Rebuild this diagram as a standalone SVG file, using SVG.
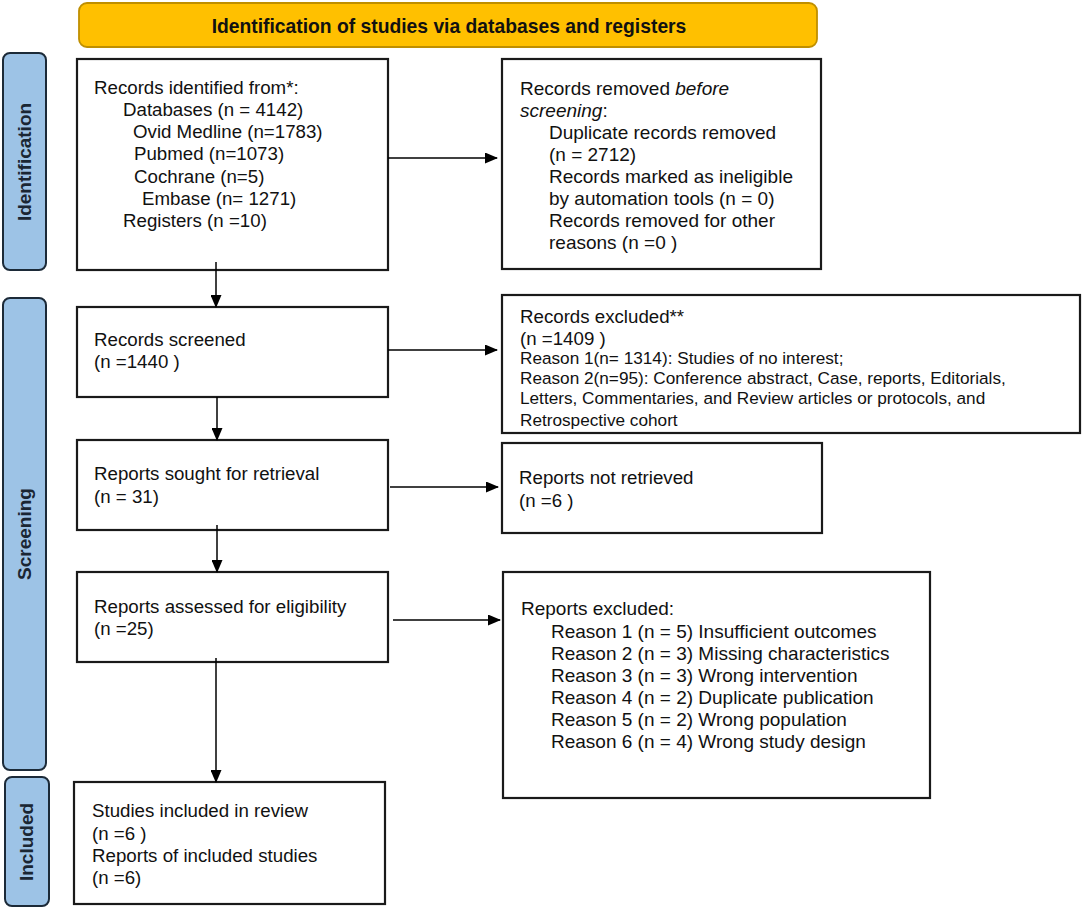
<svg xmlns="http://www.w3.org/2000/svg" width="1084" height="911" viewBox="0 0 1084 911">
<defs>
<marker id="ah" markerWidth="13" markerHeight="11" refX="12" refY="5.5" orient="auto" markerUnits="userSpaceOnUse">
<path d="M0,0 L13,5.5 L0,11 Z" fill="#000"/>
</marker>
<style>
.box{fill:#fff;stroke:#1a1a1a;stroke-width:2.2}
.lab{fill:#9DC3E6;stroke:#1c2a38;stroke-width:2}
.hdr{fill:#FFC000;stroke:#BF8F00;stroke-width:1.8}
.t{font-family:"Liberation Sans",Arial,sans-serif;font-size:18.7px;fill:#111}
.r{font-family:"Liberation Sans",Arial,sans-serif;font-size:19px;fill:#111}
.s{font-family:"Liberation Sans",Arial,sans-serif;font-size:17.2px;fill:#111}
.b{font-family:"Liberation Sans",Arial,sans-serif;font-size:19.3px;font-weight:bold;fill:#111}
.lt{font-family:"Liberation Sans",Arial,sans-serif;font-size:19px;font-weight:bold;fill:#1a2633;text-anchor:middle}
.c{stroke:#000;stroke-width:1.5;fill:none;marker-end:url(#ah)}
</style>
</defs>
<rect width="1084" height="911" fill="#fff"/>

<g id="header">
<rect class="hdr" x="79" y="3" width="738" height="44" rx="8"/>
<text class="b" x="449" y="33" text-anchor="middle">Identification of studies via databases and registers</text>
</g>

<g id="label-identification">
<rect class="lab" x="3" y="53" width="43" height="217" rx="7"/>
<text class="lt" transform="translate(31,162) rotate(-90)">Identification</text>
</g>
<g id="label-screening">
<rect class="lab" x="3" y="298" width="43" height="472" rx="7"/>
<text class="lt" transform="translate(31,534) rotate(-90)">Screening</text>
</g>
<g id="label-included">
<rect class="lab" x="5" y="777" width="44" height="129" rx="7"/>
<text class="lt" transform="translate(33,842) rotate(-90)">Included</text>
</g>

<g id="records-identified">
<rect class="box" x="77" y="59" width="311" height="211"/>
<text class="t" x="94" y="94">Records identified from*:</text>
<text class="t" x="123" y="116">Databases (n = 4142)</text>
<text class="t" x="133" y="138">Ovid Medline (n=1783)</text>
<text class="t" x="134" y="160">Pubmed (n=1073)</text>
<text class="t" x="134" y="183">Cochrane (n=5)</text>
<text class="t" x="142" y="205">Embase (n= 1271)</text>
<text class="t" x="123" y="227">Registers (n =10)</text>
</g>

<g id="records-removed">
<rect class="box" x="502" y="59" width="319" height="210"/>
<text class="r" x="520" y="95">Records removed <tspan font-style="italic">before</tspan></text>
<text class="r" x="520" y="117"><tspan font-style="italic">screening</tspan>:</text>
<text class="r" x="549" y="139">Duplicate records removed</text>
<text class="r" x="549" y="161">(n = 2712)</text>
<text class="r" x="549" y="183">Records marked as ineligible</text>
<text class="r" x="549" y="205">by automation tools (n = 0)</text>
<text class="r" x="549" y="227">Records removed for other</text>
<text class="r" x="549" y="249">reasons (n =0 )</text>
</g>

<g id="records-screened">
<rect class="box" x="77" y="307" width="311" height="90"/>
<text class="t" x="94" y="346">Records screened</text>
<text class="t" x="94" y="368">(n =1440 )</text>
</g>

<g id="records-excluded">
<rect class="box" x="502" y="295" width="578" height="138"/>
<text class="t" x="520" y="323">Records excluded**</text>
<text class="t" x="520" y="345">(n =1409 )</text>
<text class="s" x="520" y="364">Reason 1(n= 1314): Studies of no interest;</text>
<text class="s" x="520" y="384">Reason 2(n=95): Conference abstract, Case, reports, Editorials,</text>
<text class="s" x="520" y="404">Letters, Commentaries, and Review articles or protocols, and</text>
<text class="s" x="520" y="426">Retrospective cohort</text>
</g>

<g id="reports-sought">
<rect class="box" x="77" y="440" width="311" height="90"/>
<text class="t" x="94" y="480">Reports sought for retrieval</text>
<text class="t" x="94" y="503">(n = 31)</text>
</g>

<g id="reports-not-retrieved">
<rect class="box" x="502" y="443" width="320" height="90"/>
<text class="t" x="519" y="484">Reports not retrieved</text>
<text class="t" x="519" y="507">(n =6 )</text>
</g>

<g id="reports-assessed">
<rect class="box" x="77" y="572" width="311" height="90"/>
<text class="t" x="94" y="613">Reports assessed for eligibility</text>
<text class="t" x="94" y="635">(n =25)</text>
</g>

<g id="reports-excluded">
<rect class="box" x="503" y="572" width="427" height="226"/>
<text class="r" x="521" y="615">Reports excluded:</text>
<text class="r" x="551" y="638">Reason 1 (n = 5) Insufficient outcomes</text>
<text class="r" x="551" y="660">Reason 2 (n = 3) Missing characteristics</text>
<text class="r" x="551" y="682">Reason 3 (n = 3) Wrong intervention</text>
<text class="r" x="551" y="704">Reason 4 (n = 2) Duplicate publication</text>
<text class="r" x="551" y="726">Reason 5 (n = 2) Wrong population</text>
<text class="r" x="551" y="748">Reason 6 (n = 4) Wrong study design</text>
</g>

<g id="studies-included">
<rect class="box" x="74" y="782" width="311" height="122"/>
<text class="t" x="92" y="817">Studies included in review</text>
<text class="t" x="92" y="840">(n =6 )</text>
<text class="t" x="92" y="862">Reports of included studies</text>
<text class="t" x="92" y="884">(n =6)</text>
</g>

<g id="connectors">
<line class="c" x1="388" y1="158" x2="497" y2="158"/>
<line class="c" x1="216" y1="262" x2="216" y2="307"/>
<line class="c" x1="388" y1="350" x2="497" y2="350"/>
<line class="c" x1="217" y1="397" x2="217" y2="440"/>
<line class="c" x1="390" y1="487" x2="498" y2="487"/>
<line class="c" x1="217" y1="525" x2="217" y2="572"/>
<line class="c" x1="393" y1="620" x2="500" y2="620"/>
<line class="c" x1="216" y1="658" x2="216" y2="782"/>
</g>
</svg>
